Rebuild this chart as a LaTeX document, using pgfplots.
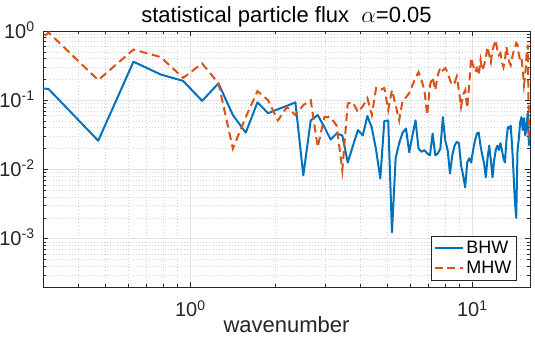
\documentclass[border=0pt]{standalone}
\usepackage{fontspec}
\setmainfont{Liberation Sans}
\usepackage{pgfplots}
\pgfplotsset{compat=1.18}
\usepackage{pgfplotstable}
\definecolor{mblue}{rgb}{0,0.447,0.741}
\definecolor{morange}{rgb}{0.850,0.325,0.098}
\definecolor{maxis}{rgb}{0.15,0.15,0.15}

% k = n*pi/20, n = 1..101
\pgfplotstableread{
k       bhw      mhw
0.157   0.20     0.06
0.314   0.145    0.95
0.471   0.026    0.195
0.628   0.36     0.54
0.785   0.235    0.42
0.942   0.19     0.21
1.100   0.098    0.34
1.257   0.175    0.176
1.414   0.061    0.020
1.571   0.034    0.057
1.728   0.093    0.135
1.885   0.065    0.10
2.042   0.074    0.051
2.199   0.083    0.08
2.356   0.093    0.061
2.513   0.0082   0.085
2.670   0.051    0.10
2.827   0.061    0.021
2.985   0.041    0.057
3.142   0.027    0.057
3.299   0.033    0.043
3.456   0.031    0.0097
3.613   0.0126   0.09
3.770   0.022    0.093
3.927   0.037    0.067
4.084   0.031    0.082
4.241   0.059    0.107
4.398   0.040    0.061
4.555   0.019    0.15
4.712   0.0074   0.14
4.869   0.050    0.15
5.027   0.051    0.072
5.184   0.00123  0.14
5.341   0.0145   0.085
5.498   0.024    0.051
5.655   0.034    0.10
5.812   0.039    0.11
5.969   0.0177   0.127
6.126   0.031    0.165
6.283   0.051    0.21
6.440   0.020    0.255
6.597   0.018    0.195
6.754   0.019    0.14
6.912   0.017    0.061
7.069   0.016    0.165
7.226   0.033    0.215
7.383   0.016    0.14
7.540   0.017    0.23
7.697   0.020    0.30
7.854   0.057    0.27
8.011   0.026    0.29
8.168   0.019    0.25
8.325   0.0087   0.195
8.482   0.016    0.165
8.639   0.022    0.176
8.796   0.025    0.22
8.954   0.024    0.14
9.111   0.0115   0.08
9.268   0.0082   0.12
9.425   0.0055   0.14
9.582   0.0126   0.077
9.739   0.0145   0.165
9.896   0.0126   0.41
10.053  0.019    0.32
10.210  0.026    0.255
10.367  0.033    0.29
10.524  0.034    0.23
10.681  0.022    0.38
10.838  0.016    0.27
10.996  0.0123   0.32
11.153  0.0077   0.41
11.310  0.0145   0.59
11.467  0.022    0.45
11.624  0.0135   0.355
11.781  0.0077   0.53
11.938  0.0135   0.63
12.095  0.019    0.74
12.252  0.022    0.53
12.409  0.019    0.45
12.566  0.024    0.48
12.723  0.019    0.355
12.881  0.0145   0.30
13.038  0.0126   0.38
13.195  0.026    0.59
13.352  0.041    0.45
13.509  0.039    0.355
13.666  0.043    0.32
13.823  0.022    0.41
13.980  0.0091   0.50
14.137  0.0036   0.57
14.294  0.0020   0.67
14.451  0.019    0.63
14.608  0.028    0.45
14.765  0.048    0.38
14.923  0.057    0.41
15.080  0.037    0.27
15.237  0.055    0.165
15.394  0.031    0.23
15.551  0.043    0.45
15.708  0.065    0.63
15.865  0.022    0.03
}\fluxdata

\begin{document}
\begin{tikzpicture}
\begin{axis}[
  scale only axis,
  width=365.25pt, height=192pt,
  xmode=log, ymode=log,
  xmin=0.3, xmax=16, ymin=2e-4, ymax=1,
  axis line style={maxis, line width=0.4pt},
  xtick={1,10},
  xticklabels={10\textsuperscript{0},10\textsuperscript{1}},
  minor xtick={0.3,0.4,0.5,0.6,0.7,0.8,0.9,2,3,4,5,6,7,8,9},
  ytick={1e-3,1e-2,1e-1,1},
  yticklabels={10\textsuperscript{-3},10\textsuperscript{-2},10\textsuperscript{-1},10\textsuperscript{0}},
  minor ytick={2e-4,3e-4,4e-4,5e-4,6e-4,7e-4,8e-4,9e-4,
               2e-3,3e-3,4e-3,5e-3,6e-3,7e-3,8e-3,9e-3,
               2e-2,3e-2,4e-2,5e-2,6e-2,7e-2,8e-2,9e-2,
               0.2,0.3,0.4,0.5,0.6,0.7,0.8,0.9},
  tick align=inside,
  major tick length=3.5pt, minor tick length=2.2pt,
  tick style={maxis, line width=0.4pt},
  grid=both,
  major grid style={gray!22, line width=0.4pt},
  minor grid style={gray!35, line width=0.4pt, dotted},
  every tick label/.append style={font=\fontsize{15}{18}\selectfont, text=maxis},
  xticklabel style={anchor=base, inner sep=0pt, yshift=-22.5pt},
  yticklabel style={anchor=base east, inner sep=0pt, xshift=-6pt, yshift=-5.4pt},
  every axis title shift=0pt,
  title={statistical particle flux\ \ $\alpha$=0.05},
  title style={at={(0.5,1)}, anchor=base, yshift=6pt,
               font=\fontsize{16.5}{19}\selectfont, text=black},
  xlabel={wavenumber},
  xlabel style={at={(axis description cs:0.5,0)}, anchor=base, yshift=-34.5pt,
                font=\fontsize{16.5}{19}\selectfont, text=maxis},
  legend style={at={(1,0)}, anchor=south east, xshift=-9.75pt, yshift=4.5pt,
                font=\fontsize{13.5}{16}\selectfont, draw=maxis, line width=0.4pt,
                inner sep=2pt, row sep=0pt},
  legend cell align=left,
  legend image code/.code={\draw[#1] (0pt,0pt) -- (21pt,0pt);},
]
\addplot[mblue, line width=1.5pt, line join=round] table[x=k, y=bhw] {\fluxdata};
\addplot[morange, line width=1.5pt, dash pattern=on 6pt off 3.5pt] table[x=k, y=mhw] {\fluxdata};
\legend{BHW,MHW}
\end{axis}
\pgfresetboundingbox
\path[use as bounding box] (current axis.south west) ++(-32.25pt,-45.75pt) rectangle ++(401.25pt,261pt);
\end{tikzpicture}
\end{document}
